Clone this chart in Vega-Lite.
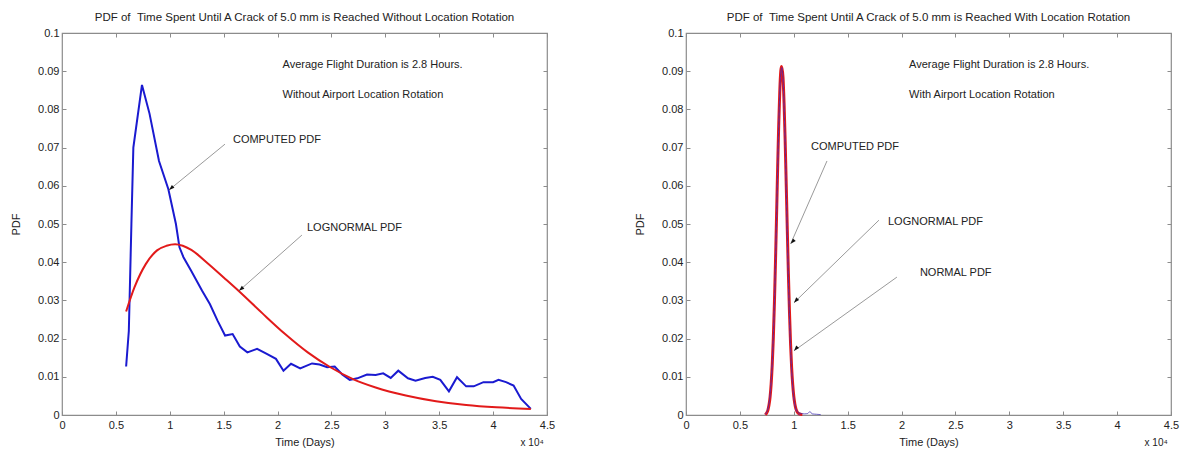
{
  "$schema": "https://vega.github.io/schema/vega-lite/v6.json",
  "background": "white",
  "padding": {"left": 9, "top": 10, "right": 5, "bottom": 5},
  "bounds": "flush",
  "spacing": 139,
  "config": {
    "font": "Liberation Sans",
    "view": {"stroke": "#8c8c8c", "strokeWidth": 1.2},
    "axis": {
      "domain": false, "grid": false, "tickColor": "#8c8c8c", "tickSize": -4, "tickWidth": 1,
      "labelFont": "Liberation Sans", "labelFontSize": 11, "labelColor": "#222222",
      "titleFont": "Liberation Sans", "titleFontSize": 11, "titleFontWeight": "normal", "titleColor": "#222222",
      "labelFlush": false, "labelOverlap": false
    },
    "title": {"font": "Liberation Sans", "fontSize": 11.5, "fontWeight": "normal", "color": "#222222", "offset": 4}
  },
  "datasets": {
    "left_computed": [
      {"t": 0.595, "pdf": 0.0127}, {"t": 0.62, "pdf": 0.022}, {"t": 0.644, "pdf": 0.05}, {"t": 0.662, "pdf": 0.07},
      {"t": 0.742, "pdf": 0.0864}, {"t": 0.812, "pdf": 0.0789}, {"t": 0.9, "pdf": 0.0665}, {"t": 0.987, "pdf": 0.0591},
      {"t": 1.057, "pdf": 0.05}, {"t": 1.09, "pdf": 0.0439}, {"t": 1.127, "pdf": 0.0413}, {"t": 1.197, "pdf": 0.0378},
      {"t": 1.3, "pdf": 0.0325}, {"t": 1.373, "pdf": 0.029}, {"t": 1.443, "pdf": 0.0247}, {"t": 1.513, "pdf": 0.0208},
      {"t": 1.583, "pdf": 0.0212}, {"t": 1.65, "pdf": 0.0179}, {"t": 1.72, "pdf": 0.0164}, {"t": 1.81, "pdf": 0.0173},
      {"t": 1.9, "pdf": 0.016}, {"t": 1.985, "pdf": 0.0147}, {"t": 2.055, "pdf": 0.0116}, {"t": 2.125, "pdf": 0.0134},
      {"t": 2.21, "pdf": 0.0122}, {"t": 2.32, "pdf": 0.0135}, {"t": 2.39, "pdf": 0.0132}, {"t": 2.46, "pdf": 0.0125},
      {"t": 2.53, "pdf": 0.0127}, {"t": 2.6, "pdf": 0.0106}, {"t": 2.67, "pdf": 0.0092}, {"t": 2.74, "pdf": 0.0096},
      {"t": 2.83, "pdf": 0.0106}, {"t": 2.91, "pdf": 0.0105}, {"t": 2.98, "pdf": 0.0109}, {"t": 3.05, "pdf": 0.0097},
      {"t": 3.12, "pdf": 0.0116}, {"t": 3.21, "pdf": 0.0096}, {"t": 3.28, "pdf": 0.009}, {"t": 3.37, "pdf": 0.0097},
      {"t": 3.44, "pdf": 0.01}, {"t": 3.51, "pdf": 0.0092}, {"t": 3.59, "pdf": 0.0062}, {"t": 3.665, "pdf": 0.0099},
      {"t": 3.75, "pdf": 0.0075}, {"t": 3.82, "pdf": 0.0075}, {"t": 3.91, "pdf": 0.0086}, {"t": 4.0, "pdf": 0.0086},
      {"t": 4.05, "pdf": 0.0092}, {"t": 4.12, "pdf": 0.0086}, {"t": 4.19, "pdf": 0.0077}, {"t": 4.26, "pdf": 0.0042},
      {"t": 4.35, "pdf": 0.0016}
    ],
    "left_lognormal": [
      {"t": 0.595, "pdf": 0.0271}, {"t": 0.672, "pdf": 0.0334}, {"t": 0.777, "pdf": 0.0395}, {"t": 0.882, "pdf": 0.0431},
      {"t": 0.97, "pdf": 0.0443}, {"t": 1.05, "pdf": 0.0447}, {"t": 1.12, "pdf": 0.0443}, {"t": 1.2, "pdf": 0.0432},
      {"t": 1.34, "pdf": 0.04}, {"t": 1.5, "pdf": 0.036}, {"t": 1.65, "pdf": 0.0322}, {"t": 1.86, "pdf": 0.0266},
      {"t": 2.07, "pdf": 0.0212}, {"t": 2.28, "pdf": 0.0164}, {"t": 2.49, "pdf": 0.0125}, {"t": 2.7, "pdf": 0.0094},
      {"t": 2.91, "pdf": 0.0072}, {"t": 3.19, "pdf": 0.0051}, {"t": 3.47, "pdf": 0.0036}, {"t": 3.75, "pdf": 0.0026},
      {"t": 4.03, "pdf": 0.002}, {"t": 4.35, "pdf": 0.0016}
    ],
    "right_normal": [
      {"t": 0.73, "pdf": 0.0002}, {"t": 0.74, "pdf": 0.0004}, {"t": 0.75, "pdf": 0.0008}, {"t": 0.76, "pdf": 0.0016},
      {"t": 0.77, "pdf": 0.0029}, {"t": 0.78, "pdf": 0.0051}, {"t": 0.79, "pdf": 0.0085}, {"t": 0.8, "pdf": 0.0135},
      {"t": 0.81, "pdf": 0.0203}, {"t": 0.82, "pdf": 0.0291}, {"t": 0.83, "pdf": 0.0397}, {"t": 0.84, "pdf": 0.0515},
      {"t": 0.85, "pdf": 0.0637}, {"t": 0.86, "pdf": 0.075}, {"t": 0.87, "pdf": 0.084}, {"t": 0.88, "pdf": 0.0896},
      {"t": 0.888, "pdf": 0.091}, {"t": 0.9, "pdf": 0.0878}, {"t": 0.91, "pdf": 0.0808}, {"t": 0.92, "pdf": 0.0707},
      {"t": 0.93, "pdf": 0.0589}, {"t": 0.94, "pdf": 0.0467}, {"t": 0.95, "pdf": 0.0352}, {"t": 0.96, "pdf": 0.0253},
      {"t": 0.97, "pdf": 0.0173}, {"t": 0.98, "pdf": 0.0113}, {"t": 0.99, "pdf": 0.007}, {"t": 1.0, "pdf": 0.0041},
      {"t": 1.01, "pdf": 0.0023}, {"t": 1.02, "pdf": 0.0012}, {"t": 1.03, "pdf": 0.0006}, {"t": 1.04, "pdf": 0.0003},
      {"t": 1.06, "pdf": 0.0001}
    ],
    "right_lognormal": [
      {"t": 0.735, "pdf": 0.0001}, {"t": 0.75, "pdf": 0.0006}, {"t": 0.76, "pdf": 0.0013}, {"t": 0.77, "pdf": 0.0026},
      {"t": 0.78, "pdf": 0.0047}, {"t": 0.79, "pdf": 0.0081}, {"t": 0.8, "pdf": 0.0131}, {"t": 0.81, "pdf": 0.02},
      {"t": 0.82, "pdf": 0.029}, {"t": 0.83, "pdf": 0.0398}, {"t": 0.84, "pdf": 0.0518}, {"t": 0.85, "pdf": 0.0643},
      {"t": 0.86, "pdf": 0.0757}, {"t": 0.87, "pdf": 0.0847}, {"t": 0.88, "pdf": 0.0902}, {"t": 0.887, "pdf": 0.0912},
      {"t": 0.9, "pdf": 0.0884}, {"t": 0.91, "pdf": 0.0816}, {"t": 0.92, "pdf": 0.0718}, {"t": 0.93, "pdf": 0.0603},
      {"t": 0.94, "pdf": 0.0484}, {"t": 0.95, "pdf": 0.037}, {"t": 0.96, "pdf": 0.027}, {"t": 0.97, "pdf": 0.0188},
      {"t": 0.98, "pdf": 0.0125}, {"t": 0.99, "pdf": 0.008}, {"t": 1.0, "pdf": 0.0049}, {"t": 1.01, "pdf": 0.0029},
      {"t": 1.02, "pdf": 0.0016}, {"t": 1.03, "pdf": 0.0009}, {"t": 1.05, "pdf": 0.0003}, {"t": 1.08, "pdf": 0.0001}
    ],
    "right_computed": [
      {"t": 0.74, "pdf": 0.0003}, {"t": 0.76, "pdf": 0.0017}, {"t": 0.78, "pdf": 0.0053}, {"t": 0.8, "pdf": 0.0138},
      {"t": 0.82, "pdf": 0.0288}, {"t": 0.84, "pdf": 0.0512}, {"t": 0.86, "pdf": 0.0753}, {"t": 0.875, "pdf": 0.0876},
      {"t": 0.888, "pdf": 0.0909}, {"t": 0.9, "pdf": 0.0881}, {"t": 0.92, "pdf": 0.0712}, {"t": 0.94, "pdf": 0.047},
      {"t": 0.96, "pdf": 0.0258}, {"t": 0.98, "pdf": 0.0118}, {"t": 1.0, "pdf": 0.0046}, {"t": 1.02, "pdf": 0.0016},
      {"t": 1.04, "pdf": 0.0007}, {"t": 1.07, "pdf": 0.0004}, {"t": 1.1, "pdf": 0.0003}, {"t": 1.13, "pdf": 0.0004},
      {"t": 1.15, "pdf": 0.0009}, {"t": 1.17, "pdf": 0.0003}, {"t": 1.21, "pdf": 0.0002}, {"t": 1.25, "pdf": 0.0001}
    ],
    "left_arrows": [
      {"t": 1.512, "pdf": 0.0709, "t2": 0.993, "pdf2": 0.0589},
      {"t": 2.226, "pdf": 0.0471, "t2": 1.642, "pdf2": 0.0325}
    ],
    "right_arrows": [
      {"t": 1.308, "pdf": 0.0665, "t2": 0.971, "pdf2": 0.0448},
      {"t": 1.79, "pdf": 0.051, "t2": 1.002, "pdf2": 0.0294},
      {"t": 1.957, "pdf": 0.0361, "t2": 1.002, "pdf2": 0.0168}
    ],
    "left_labels": [
      {"t": 2.046, "pdf": 0.0916, "label": "Average Flight Duration is 2.8 Hours."},
      {"t": 2.046, "pdf": 0.0838, "label": "Without Airport Location Rotation"},
      {"t": 1.586, "pdf": 0.072, "label": "COMPUTED PDF"},
      {"t": 2.273, "pdf": 0.049, "label": "LOGNORMAL PDF"}
    ],
    "right_labels": [
      {"t": 2.07, "pdf": 0.0916, "label": "Average Flight Duration is 2.8 Hours."},
      {"t": 2.07, "pdf": 0.0838, "label": "With Airport Location Rotation"},
      {"t": 1.16, "pdf": 0.0702, "label": "COMPUTED PDF"},
      {"t": 1.874, "pdf": 0.0505, "label": "LOGNORMAL PDF"},
      {"t": 2.17, "pdf": 0.0372, "label": "NORMAL PDF"}
    ],
    "exponent": [
      {"t": 4.47, "pdf": -0.0073, "label": "x 10⁴"}
    ]
  },
  "hconcat": [
    {
      "width": 485,
      "height": 382,
      "title": {"text": "PDF of \u00a0Time Spent Until A Crack of 5.0 mm is Reached Without Location Rotation"},
      "resolve": {"axis": {"x": "independent", "y": "independent"}},
      "layer": [
        {
          "data": {"name": "left_computed"},
          "mark": {"type": "line", "color": "#1a1ad0", "strokeWidth": 2},
          "encoding": {
            "x": {"field": "t", "type": "quantitative", "scale": {"domain": [0, 4.5], "nice": false, "zero": false},
                  "axis": {"orient": "bottom", "values": [0, 0.5, 1, 1.5, 2, 2.5, 3, 3.5, 4, 4.5], "format": "~g", "title": "Time (Days)", "labelPadding": 8, "titlePadding": 6}},
            "y": {"field": "pdf", "type": "quantitative", "scale": {"domain": [0, 0.1], "nice": false},
                  "axis": {"orient": "left", "values": [0, 0.01, 0.02, 0.03, 0.04, 0.05, 0.06, 0.07, 0.08, 0.09, 0.1], "format": "~g", "title": "PDF", "labelPadding": 7, "titlePadding": 16}}
          }
        },
        {
          "data": {"name": "left_lognormal"},
          "mark": {"type": "line", "color": "#e21a1a", "strokeWidth": 2, "interpolate": "monotone"},
          "encoding": {
            "x": {"field": "t", "type": "quantitative", "axis": null},
            "y": {"field": "pdf", "type": "quantitative", "axis": null}
          }
        },
        {
          "data": {"name": "left_arrows"},
          "mark": {"type": "rule", "color": "#9a9a9a", "strokeWidth": 1},
          "encoding": {
            "x": {"field": "t", "type": "quantitative", "axis": null},
            "y": {"field": "pdf", "type": "quantitative", "axis": null},
            "x2": {"field": "t2"},
            "y2": {"field": "pdf2"}
          }
        },
        {
          "data": {"name": "left_arrows"},
          "mark": {"type": "point", "shape": "M0,0L-0.7,2L0.7,2Z", "filled": true, "color": "#111111", "opacity": 1, "size": 30, "angle": 229},
          "encoding": {
            "x": {"field": "t2", "type": "quantitative", "axis": null},
            "y": {"field": "pdf2", "type": "quantitative", "axis": null}
          }
        },
        {
          "data": {"name": "exponent"},
          "mark": {"type": "text", "align": "right", "baseline": "middle", "fontSize": 10, "color": "#222222"},
          "encoding": {
            "x": {"field": "t", "type": "quantitative", "axis": null},
            "y": {"field": "pdf", "type": "quantitative", "axis": null},
            "text": {"field": "label"}
          }
        },
        {
          "data": {"name": "left_labels"},
          "mark": {"type": "text", "align": "left", "baseline": "middle", "fontSize": 11, "color": "#222222"},
          "encoding": {
            "x": {"field": "t", "type": "quantitative",
                  "axis": {"orient": "top", "values": [0, 0.5, 1, 1.5, 2, 2.5, 3, 3.5, 4, 4.5], "labels": false, "title": null}},
            "y": {"field": "pdf", "type": "quantitative",
                  "axis": {"orient": "right", "values": [0, 0.01, 0.02, 0.03, 0.04, 0.05, 0.06, 0.07, 0.08, 0.09, 0.1], "labels": false, "title": null}},
            "text": {"field": "label"}
          }
        }
      ]
    },
    {
      "width": 485,
      "height": 382,
      "title": {"text": "PDF of \u00a0Time Spent Until A Crack of 5.0 mm is Reached With Location Rotation"},
      "resolve": {"axis": {"x": "independent", "y": "independent"}},
      "layer": [
        {
          "data": {"name": "right_lognormal"},
          "mark": {"type": "line", "color": "#e21a1a", "strokeWidth": 3, "interpolate": "monotone"},
          "encoding": {
            "x": {"field": "t", "type": "quantitative", "scale": {"domain": [0, 4.5], "nice": false, "zero": false},
                  "axis": {"orient": "bottom", "values": [0, 0.5, 1, 1.5, 2, 2.5, 3, 3.5, 4, 4.5], "format": "~g", "title": "Time (Days)", "labelPadding": 8, "titlePadding": 6}},
            "y": {"field": "pdf", "type": "quantitative", "scale": {"domain": [0, 0.1], "nice": false},
                  "axis": {"orient": "left", "values": [0, 0.01, 0.02, 0.03, 0.04, 0.05, 0.06, 0.07, 0.08, 0.09, 0.1], "format": "~g", "title": "PDF", "labelPadding": 7, "titlePadding": 16}}
          }
        },
        {
          "data": {"name": "right_computed"},
          "mark": {"type": "line", "color": "#3a2ab0", "strokeWidth": 1, "opacity": 0.7, "interpolate": "monotone"},
          "encoding": {
            "x": {"field": "t", "type": "quantitative", "axis": null},
            "y": {"field": "pdf", "type": "quantitative", "axis": null}
          }
        },
        {
          "data": {"name": "right_normal"},
          "mark": {"type": "line", "color": "#7a2aa0", "strokeWidth": 1, "strokeDash": [3, 3], "opacity": 0.7, "interpolate": "monotone"},
          "encoding": {
            "x": {"field": "t", "type": "quantitative", "axis": null},
            "y": {"field": "pdf", "type": "quantitative", "axis": null}
          }
        },
        {
          "data": {"name": "right_arrows"},
          "mark": {"type": "rule", "color": "#9a9a9a", "strokeWidth": 1},
          "encoding": {
            "x": {"field": "t", "type": "quantitative", "axis": null},
            "y": {"field": "pdf", "type": "quantitative", "axis": null},
            "x2": {"field": "t2"},
            "y2": {"field": "pdf2"}
          }
        },
        {
          "data": {"name": "right_arrows"},
          "mark": {"type": "point", "shape": "M0,0L-0.7,2L0.7,2Z", "filled": true, "color": "#111111", "opacity": 1, "size": 30, "angle": 222},
          "encoding": {
            "x": {"field": "t2", "type": "quantitative", "axis": null},
            "y": {"field": "pdf2", "type": "quantitative", "axis": null}
          }
        },
        {
          "data": {"name": "exponent"},
          "mark": {"type": "text", "align": "right", "baseline": "middle", "fontSize": 10, "color": "#222222"},
          "encoding": {
            "x": {"field": "t", "type": "quantitative", "axis": null},
            "y": {"field": "pdf", "type": "quantitative", "axis": null},
            "text": {"field": "label"}
          }
        },
        {
          "data": {"name": "right_labels"},
          "mark": {"type": "text", "align": "left", "baseline": "middle", "fontSize": 11, "color": "#222222"},
          "encoding": {
            "x": {"field": "t", "type": "quantitative",
                  "axis": {"orient": "top", "values": [0, 0.5, 1, 1.5, 2, 2.5, 3, 3.5, 4, 4.5], "labels": false, "title": null}},
            "y": {"field": "pdf", "type": "quantitative",
                  "axis": {"orient": "right", "values": [0, 0.01, 0.02, 0.03, 0.04, 0.05, 0.06, 0.07, 0.08, 0.09, 0.1], "labels": false, "title": null}},
            "text": {"field": "label"}
          }
        }
      ]
    }
  ]
}
